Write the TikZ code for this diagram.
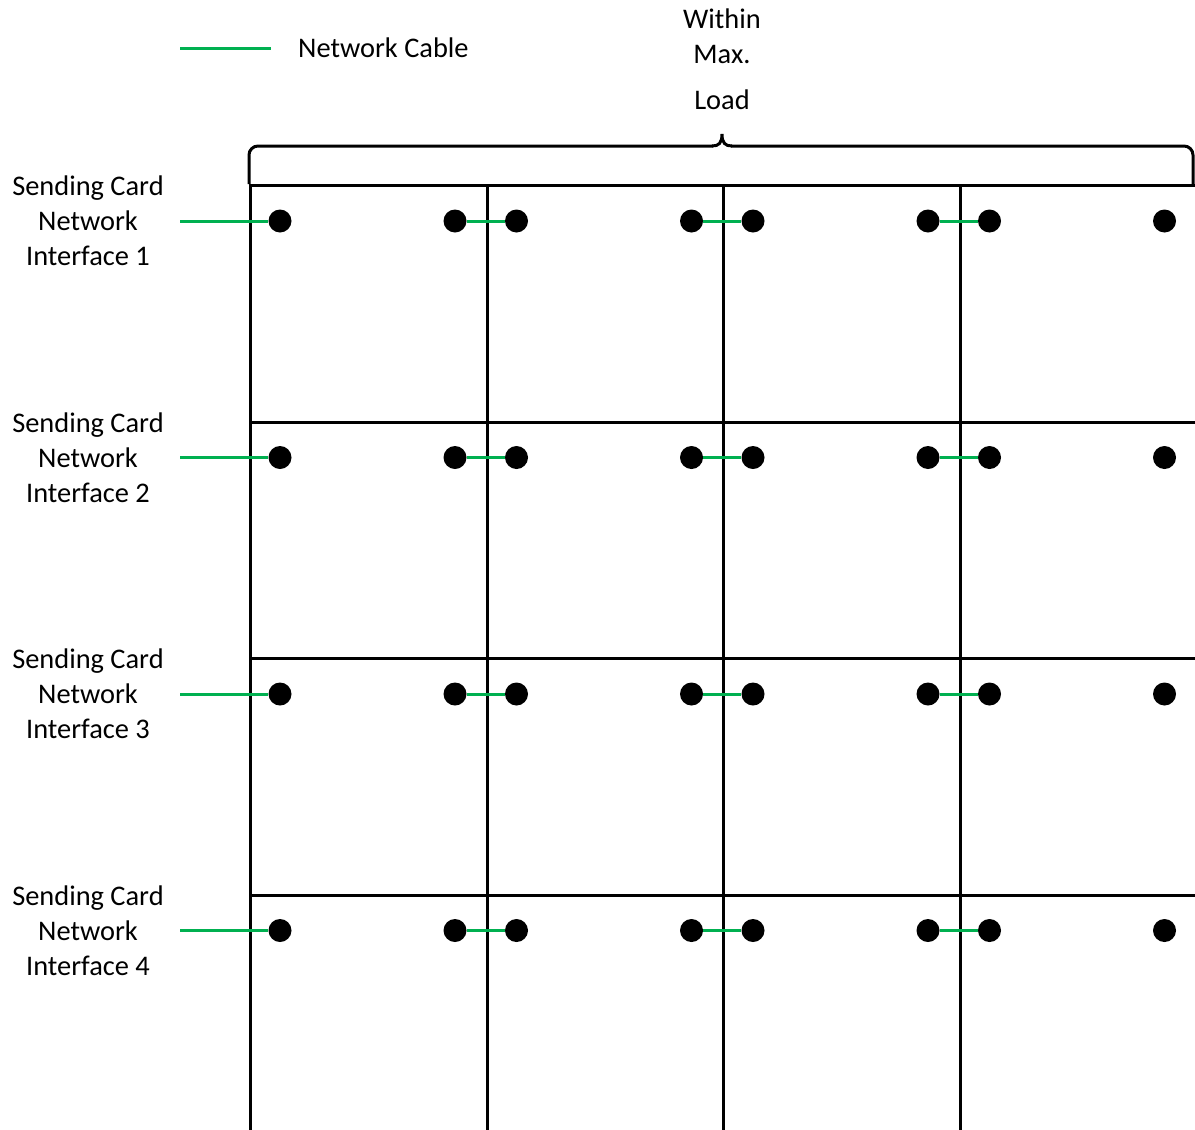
\documentclass[tikz,border=0pt]{standalone}
\usepackage{fontspec}
\setmainfont{Carlito}
\definecolor{cablegreen}{RGB}{0,176,80}

\begin{document}
\begin{tikzpicture}[x=1pt,y=-1pt,
    cabinet/.style={draw, line width=3pt, minimum width=236.5pt, minimum height=236.5pt, inner sep=0pt, anchor=north west},
    port/.style={circle, fill=black, minimum size=23pt, inner sep=0pt},
    cable/.style={cablegreen, line width=3pt},
    brace/.style={line width=3pt},
    label/.style={font=\fontsize{28.4}{35}\selectfont, align=center, inner sep=0pt}]
    \useasboundingbox (0,0) rectangle (1195,1130);

    % Legend
    \coordinate (leg-a) at (180,48);
    \coordinate (leg-b) at (271,48);
    \draw[cable] (leg-a) -- (leg-b);
    \node[label, anchor=west] (leg-text) at (298,48) {Network Cable};

    % Cabinets and ports
    \foreach \r in {1,...,4} {
        \foreach \c in {1,...,4} {
            \pgfmathsetmacro{\cx}{249+(\c-1)*236.5}
            \pgfmathsetmacro{\cy}{184+(\r-1)*236.5}
            \node[cabinet] (cab-\r-\c) at (\cx,\cy) {};
            \node[port] (in-\r-\c) at (\cx+31,\cy+37) {};
            \node[port] (out-\r-\c) at (\cx+206,\cy+37) {};
        }
    }

    % Sending card outputs
    \foreach \r in {1,...,4} {
        \pgfmathsetmacro{\cy}{221+(\r-1)*236.5}
        \node[label] (card-\r) at (88,\cy) {Sending Card\\Network\\Interface \r};
        \coordinate (src-\r) at (180,\cy);
        \draw[cable] (src-\r) -- (in-\r-1);
    }

    % Cascading cables
    \foreach \r in {1,...,4} {
        \foreach \c/\n in {1/2,2/3,3/4} {
            \draw[cable] (out-\r-\c) -- (in-\r-\n);
        }
    }

    % Brace for max load
    \draw[brace, rounded corners=9pt] (249,184) -- (249,146) -- (713,146);
    \draw[brace, rounded corners=9pt] (731,146) -- (1193,146) -- (1193,184);
    \draw[brace] (712,146) .. controls (719,146) and (722,143) .. (722,134)
        .. controls (722,143) and (725,146) .. (732,146);
    \node[label] (load) at (722,59) {Within\\Max.\\[11pt]Load};

\end{tikzpicture}
\end{document}
